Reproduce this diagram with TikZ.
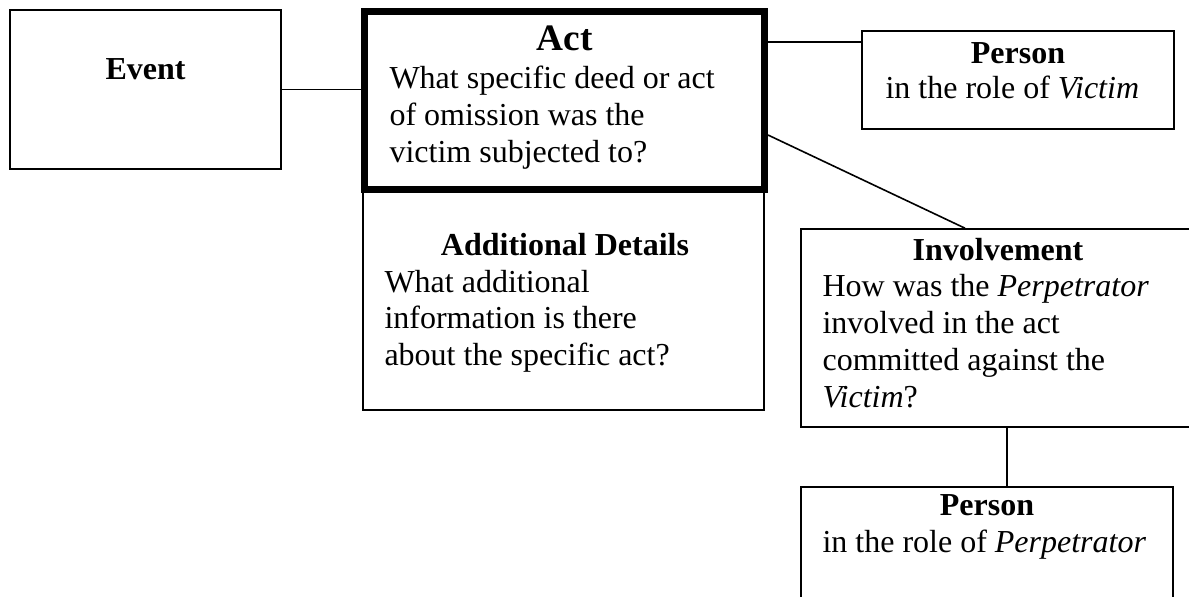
\documentclass[tikz,border=0pt]{standalone}
\usepackage{fontspec}
\setmainfont{Liberation Serif}
\usetikzlibrary{fit}
\begin{document}
\begin{tikzpicture}[x=0.375pt,y=-0.375pt,
  box/.style={draw=black, line width=0.6pt, inner sep=0pt},
  actbox/.style={draw=black, line width=2.625pt, inner sep=0pt},
  link/.style={draw=black, line width=0.6pt},
  txt/.style={inner sep=0pt, anchor=base west, font=\fontsize{12}{14}\selectfont},
  ttl/.style={inner sep=0pt, anchor=base, font=\fontsize{12}{14}\selectfont\bfseries},
  bigttl/.style={inner sep=0pt, anchor=base, font=\fontsize{14}{16}\selectfont\bfseries}]
% page
\fill[white] (0,0) rectangle (1189,596);
\useasboundingbox (0,0) rectangle (1189,596);
\clip (0,0) rectangle (1189,596);

% boxes
\node[box, fit={(10,10) (281,169)}] (event) {};
\node[box, fit={(363,191) (764,410)}] (details) {};
\node[actbox, fill=white, fit={(364.5,11.5) (764.5,189)}] (act) {};
\node[box, fit={(862,31) (1174,129)}] (victim) {};
\node[box, fit={(801,229) (1195,427)}] (involve) {};
\node[box, fit={(801,487) (1173,640)}] (perp) {};

% connector helpers
\coordinate (vy) at (0,42);
\coordinate (dy) at (0,135);
\coordinate (dx) at (965,0);
\coordinate (cx) at (1007,0);

% connectors
\draw[link] (event.east) -- (event.east -| act.west);
\draw[link] (act.east |- vy) -- (victim.west |- vy);
\draw[link] (act.east |- dy) -- (involve.north -| dx);
\draw[link] (involve.south -| cx) -- (perp.north -| cx);

% Event
\node[ttl] (tEvent) at (145.5,79) {Event};

% Act
\node[bigttl] (tAct) at (564.5,50) {Act};
\node[txt] (act1) at (389,88) {What specific deed or act};
\node[txt] (act2) at (389,125) {of omission was the};
\node[txt] (act3) at (389,162) {victim subjected to?};

% Additional Details
\node[ttl] (tDet) at (565,255) {Additional Details};
\node[txt] (det1) at (384,292) {What additional};
\node[txt] (det2) at (384,328.5) {information is there};
\node[txt] (det3) at (384,365) {about the specific act?};

% Person (victim)
\node[ttl] (tVic) at (1018,63) {Person};
\node[txt] (vic1) at (885,98) {in the role of \textit{Victim}};

% Involvement
\node[ttl] (tInv) at (998,260) {Involvement};
\node[txt] (inv1) at (822,296) {How was the \textit{Perpetrator}};
\node[txt] (inv2) at (822,333) {involved in the act};
\node[txt] (inv3) at (822,370) {committed against the};
\node[txt] (inv4) at (822,407) {\textit{Victim}?};

% Person (perpetrator)
\node[ttl] (tPerp) at (987,515) {Person};
\node[txt] (perp1) at (822,552) {in the role of \textit{Perpetrator}};
\end{tikzpicture}
\end{document}
